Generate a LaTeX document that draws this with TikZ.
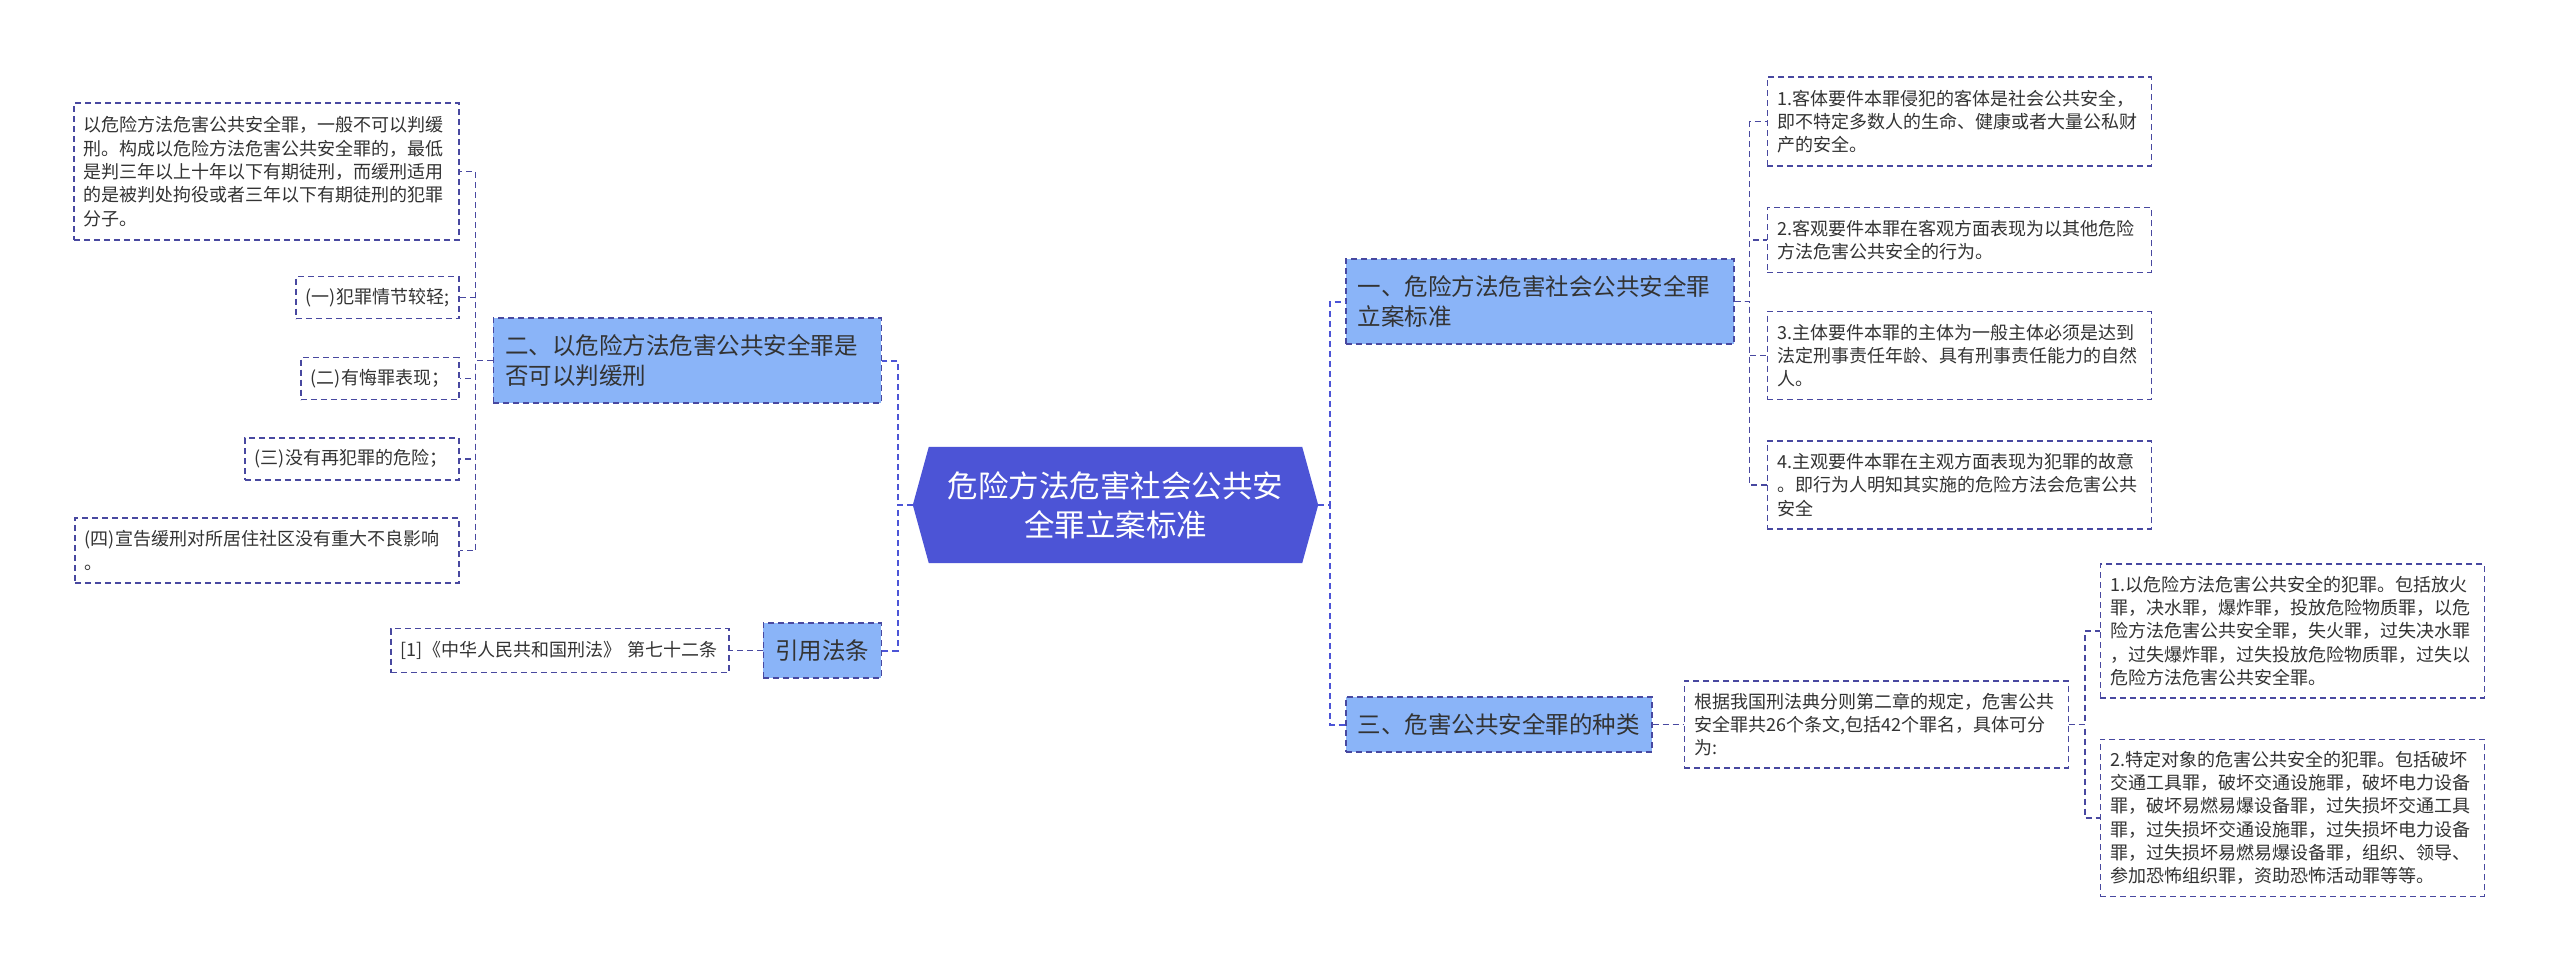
\documentclass[tikz,border=0pt]{standalone}
\usepackage{fontspec}
\setmainfont{Noto Sans CJK SC}
\usepackage{xcolor}
\usepackage{tikz}
\usetikzlibrary{positioning, backgrounds}
\definecolor{edgeblue}{RGB}{72,72,160}
\definecolor{hubblue}{RGB}{76,84,214}
\definecolor{topicfill}{RGB}{138,180,248}
\definecolor{inkgray}{RGB}{51,51,51}
\newcommand{\halfpunct}[1]{\makebox[0.5em][l]{#1}}
\tikzstyle{hub} = [minimum width=373pt, minimum height=116pt, inner sep=0pt,
    align=center, text=white, font=\fontsize{30.5pt}{39pt}\selectfont]
\tikzstyle{topic} = [draw=edgeblue, dash pattern=on 6pt off 4pt, line width=1.3pt,
    fill=topicfill, inner xsep=12pt, inner ysep=0pt, minimum height=55pt,
    align=left, text=inkgray, font=\fontsize{23.5pt}{30pt}\selectfont]
\tikzstyle{leaf} = [draw=edgeblue, dash pattern=on 6pt off 4pt, line width=1.3pt,
    fill=white, inner xsep=10pt, inner ysep=0pt, text width=364pt,
    align=left, text=inkgray, font=\fontsize{18pt}{23.3pt}\selectfont]
\tikzstyle{trunk} = [hubblue, line width=2pt, dash pattern=on 6pt off 4pt]
\tikzstyle{link} = [edgeblue, line width=1.4pt, dash pattern=on 6pt off 4pt]

\begin{document}
\begin{tikzpicture}
  \useasboundingbox (0,0) rectangle (2560pt,-975pt);

  % Centre
  \node[hub] (hub) at (1115.5pt,-505pt) {危险方法危害社会公共安\\全罪立案标准};
  \coordinate (hubL) at ([xshift=-16pt]hub.west);
  \coordinate (hubR) at ([xshift=16pt]hub.east);
  \begin{scope}[on background layer]
    \fill[white] (0,0) rectangle (2560pt,-975pt);
    \fill[hubblue] (hub.north west) -- (hub.north east) -- (hubR) -- (hub.south east)
      -- (hub.south west) -- (hubL) -- cycle;
  \end{scope}

  % Topics
  \node[topic, text width=364pt, minimum height=85pt, right=43pt of hub, yshift=203.5pt] (crit) {一、危险方法危害社会公共安全罪\\立案标准};
  \node[topic, minimum width=306pt, right=43pt of hub, yshift=-219.5pt] (kinds) {三、危害公共安全罪的种类};
  \node[topic, text width=364pt, minimum height=85pt, left=47pt of hub, yshift=144.5pt] (probation) {二、以危险方法危害公共安全罪是\\否可以判缓刑};
  \node[topic, minimum width=118pt, left=47pt of hub, yshift=-145.5pt] (law) {引用法条};

  % Elements of the crime
  \node[leaf, minimum height=89pt, right=32pt of crit, yshift=180pt] (obj) {1.客体要件本罪侵犯的客体是社会公共安全\halfpunct{，}\\即不特定多数人的生命、健康或者大量公私财\\产的安全。};
  \node[leaf, minimum height=65pt, below=40pt of obj] (act) {2.客观要件本罪在客观方面表现为以其他危险\\方法危害公共安全的行为。};
  \node[leaf, minimum height=88pt, below=38pt of act] (subj) {3.主体要件本罪的主体为一般主体必须是达到\\法定刑事责任年龄、具有刑事责任能力的自然\\人。};
  \node[leaf, minimum height=88pt, below=40pt of subj] (intent) {4.主观要件本罪在主观方面表现为犯罪的故意\\。即行为人明知其实施的危险方法会危害公共\\安全};

  % Kinds of the crime
  \node[leaf, minimum height=87pt, right=31pt of kinds] (chapter) {根据我国刑法典分则第二章的规定，危害公共\\安全罪共26个条文,包括42个罪名，具体可分\\为:};
  \node[leaf, minimum height=134pt, right=31pt of chapter, yshift=93.5pt] (method) {1.以危险方法危害公共安全的犯罪。包括放火\\罪，决水罪，爆炸罪，投放危险物质罪，以危\\险方法危害公共安全罪，失火罪，过失决水罪\\，过失爆炸罪，过失投放危险物质罪，过失以\\危险方法危害公共安全罪。};
  \node[leaf, minimum height=157pt, below=40pt of method] (target) {2.特定对象的危害公共安全的犯罪。包括破坏\\交通工具罪，破坏交通设施罪，破坏电力设备\\罪，破坏易燃易爆设备罪，过失损坏交通工具\\罪，过失损坏交通设施罪，过失损坏电力设备\\罪，过失损坏易燃易爆设备罪，组织、领导\halfpunct{、}\\参加恐怖组织罪，资助恐怖活动罪等等。};

  % Probation conditions
  \node[leaf, text width=365pt, minimum height=137pt, left=33pt of probation, yshift=189pt] (rule) {以危险方法危害公共安全罪，一般不可以判缓\\刑。构成以危险方法危害公共安全罪的，最低\\是判三年以上十年以下有期徒刑，而缓刑适用\\的是被判处拘役或者三年以下有期徒刑的犯罪\\分子。};
  \node[leaf, text width=143pt, minimum height=42pt, left=33pt of probation, yshift=63pt] (c1) {(一)犯罪情节较轻;};
  \node[leaf, text width=138pt, minimum height=42pt, left=33pt of probation, yshift=-18pt] (c2) {(二)有悔罪表现；};
  \node[leaf, text width=194pt, minimum height=42pt, left=33pt of probation, yshift=-98.5pt] (c3) {(三)没有再犯罪的危险；};
  \node[leaf, minimum height=65pt, left=33pt of probation, yshift=-190pt] (c4) {(四)宣告缓刑对所居住社区没有重大不良影响\\。};

  % Source
  \node[leaf, text width=318pt, minimum height=44pt, left=33pt of law] (code) {[1]《中华人民共和国刑法》 第七十二条};

  % Connectors
  \draw[trunk] (hubR) -- ++(12pt,0) |- (crit.west);
  \draw[trunk] (hubR) -- ++(12pt,0) |- (kinds.west);
  \draw[trunk] (hubL) -- ++(-15pt,0) |- (probation.east);
  \draw[trunk] (hubL) -- ++(-15pt,0) |- (law.east);
  \draw[link] (crit.east) -- ++(15pt,0) |- (obj.west);
  \draw[link] (crit.east) -- ++(15pt,0) |- (act.west);
  \draw[link] (crit.east) -- ++(15pt,0) |- (subj.west);
  \draw[link] (crit.east) -- ++(15pt,0) |- (intent.west);
  \draw[link] (kinds) -- (chapter);
  \draw[link] (chapter.east) -- ++(16pt,0) |- (method.west);
  \draw[link] (chapter.east) -- ++(16pt,0) |- (target.west);
  \draw[link] (probation.west) -- ++(-17pt,0) |- (rule.east);
  \draw[link] (probation.west) -- ++(-17pt,0) |- (c1.east);
  \draw[link] (probation.west) -- ++(-17pt,0) |- (c2.east);
  \draw[link] (probation.west) -- ++(-17pt,0) |- (c3.east);
  \draw[link] (probation.west) -- ++(-17pt,0) |- (c4.east);
  \draw[link] (law) -- (code);
\end{tikzpicture}
\end{document}
